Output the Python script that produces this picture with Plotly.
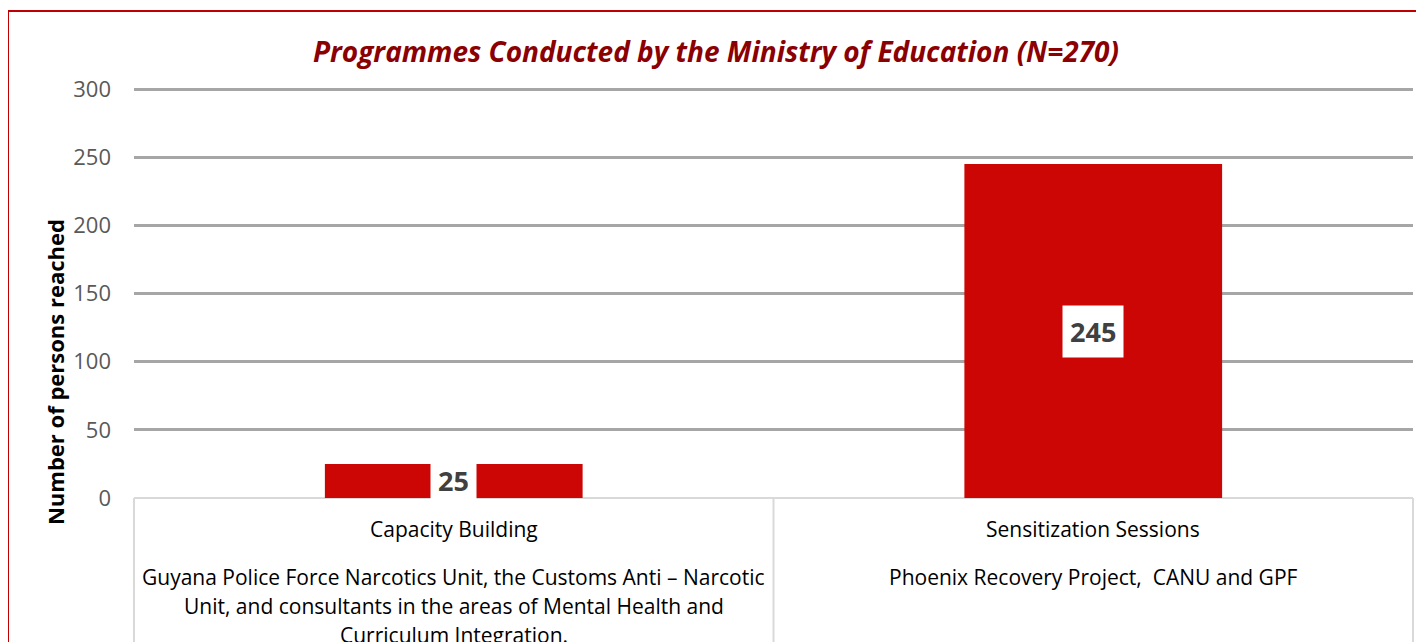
import plotly.graph_objects as go

# ---- data ----
categories = ["Capacity Building", "Sensitization Sessions"]
values = [25, 245]
sub_labels = [
    ["Guyana Police Force Narcotics Unit, the Customs Anti \u2013 Narcotic",
     "Unit, and consultants in the areas of Mental Health and",
     "Curriculum Integration."],
    ["Phoenix Recovery Project,  CANU and GPF"],
]
y_ticks = [0, 50, 100, 150, 200, 250, 300]
title_text = "Programmes Conducted by the Ministry of Education (N=270)"
y_title = "Number of persons reached"

FONT = "Open Sans"
OFF = 8  # page body margin
Y_MAX_TICK = 300
Y_TOP = 303  # slightly above the last tick so its gridline is drawn
W, H = 1424 - OFF, 642 - OFF
PLOT_L, PLOT_R = 134 - OFF, 1413 - OFF
PLOT_B = 498 - OFF
PX_PER_UNIT = (498 - 89) / Y_MAX_TICK
PLOT_T = PLOT_B - Y_TOP * PX_PER_UNIT
L, T, R, B = PLOT_L, PLOT_T, W - PLOT_R, H - PLOT_B
PW, PH = W - L - R, H - T - B

def px_to_paper_x(px):
    return (px - OFF - L) / PW

def px_to_paper_y(py):
    return (PLOT_B - (py - OFF)) / PH

fig = go.Figure()
fig.add_trace(go.Bar(
    x=categories, y=values,
    marker=dict(color="#CC0505", line=dict(width=0)),
    hoverinfo="x+y",
))

annotations = []
# value labels with white boxes
for c, v in zip(categories, values):
    annotations.append(dict(
        x=c, y=v / 2, xref="x", yref="y", text=f"<b>{v}</b>", showarrow=False,
        font=dict(family=FONT, size=27, color="#404040"),
        bgcolor="white", borderpad=7, xanchor="center", yanchor="middle",
    ))

# category labels (two levels)
for c, lines in zip(categories, sub_labels):
    annotations.append(dict(
        x=c, xref="x", y=px_to_paper_y(529), yref="paper", text=c, showarrow=False,
        font=dict(family=FONT, size=21, color="#000000"), xanchor="center", yanchor="middle",
    ))
    for i, ln in enumerate(lines):
        annotations.append(dict(
            x=c, xref="x", y=px_to_paper_y(577 + 29 * i), yref="paper", text=ln,
            showarrow=False, font=dict(family=FONT, size=21, color="#000000"),
            xanchor="center", yanchor="middle",
        ))

# y-axis title
annotations.append(dict(
    x=px_to_paper_x(55), xref="paper", y=px_to_paper_y(372), yref="paper",
    text=f"<b>{y_title}</b>", textangle=-90, showarrow=False,
    font=dict(family=FONT, size=22, color="#000000"), xanchor="center", yanchor="middle",
))

shapes = []
# table vertical lines
for xp in [0, 0.5, 1]:
    shapes.append(dict(type="line", xref="paper", yref="paper",
                       x0=xp, x1=xp, y0=0, y1=px_to_paper_y(700),
                       line=dict(color="#D9D9D9", width=2)))
# outer red border
shapes.append(dict(type="rect", xref="paper", yref="paper",
                   x0=px_to_paper_x(8), x1=px_to_paper_x(1440),
                   y0=px_to_paper_y(700), y1=px_to_paper_y(11),
                   line=dict(color="#C00000", width=2), fillcolor="rgba(0,0,0,0)"))

fig.update_layout(
    width=W, height=H,
    margin=dict(l=L, r=R, t=T, b=B),
    paper_bgcolor="white", plot_bgcolor="white",
    bargap=0.597,
    showlegend=False,
    title=dict(text=f"<b><i>{title_text}</i></b>", x=0.5, xanchor="center",
               y=1 - (52 - OFF) / H, yanchor="middle",
               font=dict(family=FONT, size=28, color="#8B0000")),
    xaxis=dict(showticklabels=False, showgrid=False, showline=False, ticks=""),
    yaxis=dict(range=[0, Y_TOP], tickvals=y_ticks, showgrid=True,
               gridcolor="#A6A6A6", gridwidth=3, zeroline=True,
               zerolinecolor="#D9D9D9", zerolinewidth=2,
               tickfont=dict(family=FONT, size=22, color="#595959"),
               ticks="", ticklabelstandoff=22, showline=False),
    annotations=annotations,
    shapes=shapes,
)

fig.write_html("out.html")
